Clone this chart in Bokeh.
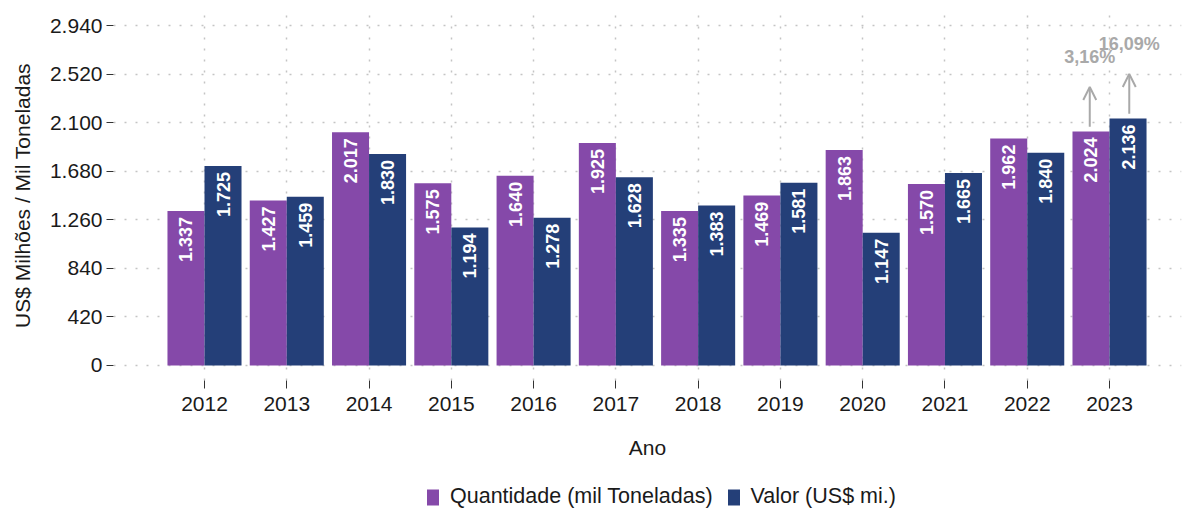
import numpy as np
from bokeh.plotting import figure
from bokeh.layouts import column
from bokeh.models import (ColumnDataSource, Range1d, FixedTicker, Legend, LegendItem,
                          Arrow, OpenHead)
from bokeh.core.properties import value
from bokeh.embed import file_html
from bokeh.resources import INLINE

# ---------------- data ----------------
years = ["2012", "2013", "2014", "2015", "2016", "2017",
         "2018", "2019", "2020", "2021", "2022", "2023"]
quantidade = [1337, 1427, 2017, 1575, 1640, 1925, 1335, 1469, 1863, 1570, 1962, 2024]
valor = [1725, 1459, 1830, 1194, 1278, 1628, 1383, 1581, 1147, 1665, 1840, 2136]
series_names = ["Quantidade (mil Toneladas)", "Valor (US$ mi.)"]
y_ticks = [0, 420, 840, 1260, 1680, 2100, 2520, 2940]
y_tick_labels = ["0", "420", "840", "1.260", "1.680", "2.100", "2.520", "2.940"]
growth_labels = ["3,16%", "16,09%"]   # last-year variation (quantidade, valor)

# ---------------- style ----------------
PURPLE = "#8549a9"
BLUE = "#243f78"
GRID = "#c4c4c4"
ANNOT = "#a9a9a9"
FONT = "Liberation Sans"
W = 1185
H_MAIN = 474
H_LEG = 35

def fmt(v):
    return f"{v:,}".replace(",", ".")

idx = np.arange(len(years))
dodge = 0.225
bw = 0.45

p = figure(width=W, height=H_MAIN,
           x_range=Range1d(-1.106, 11.875), y_range=Range1d(-130, 3070),
           output_backend="svg", toolbar_location=None,
           min_border_left=113, min_border_top=10, min_border_right=4,
           min_border_bottom=H_MAIN - 380)
p.outline_line_color = None
p.background_fill_color = "white"
p.border_fill_color = "white"

src_q = ColumnDataSource(dict(x=idx - dodge, top=quantidade,
                              lab=[fmt(v) for v in quantidade]))
src_v = ColumnDataSource(dict(x=idx + dodge, top=valor,
                              lab=[fmt(v) for v in valor]))

p.vbar(x="x", top="top", width=bw, source=src_q, fill_color=PURPLE, line_color=None)
p.vbar(x="x", top="top", width=bw, source=src_v, fill_color=BLUE, line_color=None)

for src in (src_q, src_v):
    p.text(x="x", y="top", text="lab", source=src, angle=np.pi / 2,
           text_align="right", text_baseline="middle", text_color="white",
           text_font=value(FONT), text_font_style="bold", text_font_size="18px",
           y_offset=6)

# growth annotations on last year
last = len(years) - 1
ann_x = [last - 0.24, last + 0.24]
ann_v = [quantidade[last], valor[last]]
for xv, v in zip(ann_x, ann_v):
    p.add_layout(Arrow(end=OpenHead(size=13, line_color=ANNOT, line_width=2),
                       x_start=xv, y_start=v + 40, x_end=xv, y_end=v + 385,
                       line_color=ANNOT, line_width=2))
p.text(x=ann_x, y=[v + 645 for v in ann_v], text=growth_labels,
       text_align="center", text_baseline="middle", text_color=ANNOT,
       text_font=value(FONT), text_font_style="bold", text_font_size="18px")

# axes
p.xaxis.ticker = FixedTicker(ticks=list(idx))
p.xaxis.major_label_overrides = {int(i): y for i, y in zip(idx, years)}
p.yaxis.ticker = FixedTicker(ticks=y_ticks)
p.yaxis.major_label_overrides = {t: l for t, l in zip(y_ticks, y_tick_labels)}
p.xgrid.ticker = FixedTicker(ticks=list(idx))
p.ygrid.ticker = FixedTicker(ticks=y_ticks)

for ax in (p.xaxis, p.yaxis):
    ax.axis_line_color = None
    ax.major_tick_line_color = "#333333"
    ax.major_tick_line_width = 1
    ax.major_tick_in = 0
    ax.major_tick_out = 7
    ax.minor_tick_line_color = None
    ax.major_label_text_font = FONT
    ax.major_label_text_font_size = "21px"
    ax.major_label_text_color = "#1a1a1a"
    ax.axis_label_text_font = FONT
    ax.axis_label_text_font_size = "21px"
    ax.axis_label_text_font_style = "normal"
    ax.axis_label_text_color = "#1a1a1a"

p.xaxis.axis_label = "Ano"
p.yaxis.axis_label = "US$ Milhões / Mil Toneladas"
p.xaxis.major_tick_out = 8
p.xaxis.major_label_standoff = 8
p.xaxis.axis_label_standoff = 22
p.yaxis.major_label_standoff = 4
p.yaxis.axis_label_standoff = 13

for g in (p.xgrid, p.ygrid):
    g.grid_line_color = GRID
    g.grid_line_width = 1.5
    g.grid_line_dash = "2 9"

# ---------------- legend strip ----------------
pl = figure(width=W, height=H_LEG, x_axis_type=None, y_axis_type=None,
            x_range=Range1d(0, 1), y_range=Range1d(0, 1),
            output_backend="svg", toolbar_location=None,
            min_border=0, min_border_left=0, min_border_right=0,
            min_border_top=0, min_border_bottom=0)
pl.outline_line_color = None
pl.background_fill_color = "white"
pl.border_fill_color = "white"
# legend-key renderers only (placed outside the visible range)
lq = pl.vbar(x=[-5], top=[0], width=0.1, fill_color=PURPLE, line_color=None)
lv = pl.vbar(x=[-5], top=[0], width=0.1, fill_color=BLUE, line_color=None)
legend = Legend(items=[LegendItem(label=series_names[0], renderers=[lq]),
                       LegendItem(label=series_names[1], renderers=[lv])],
                location=(312, 0), orientation="horizontal",
                padding=0, margin=0, spacing=13, glyph_width=15, glyph_height=20,
                label_standoff=10, label_text_font=FONT, label_text_font_size="21.5px",
                label_text_color="#1a1a1a", border_line_color=None,
                background_fill_alpha=0)
pl.add_layout(legend, "center")

layout = column(p, pl, spacing=0)
open("out.html", "w").write(file_html(layout, INLINE))
